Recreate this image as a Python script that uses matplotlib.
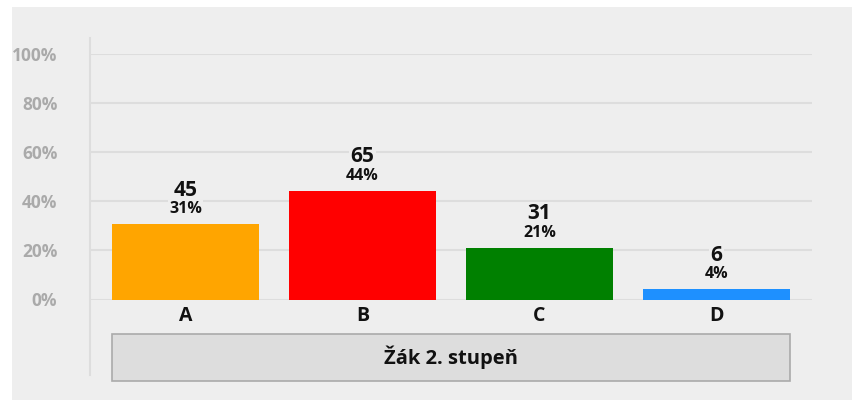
import matplotlib
matplotlib.use("Agg")
import matplotlib.pyplot as plt
from matplotlib.patches import Rectangle
from matplotlib.lines import Line2D
import matplotlib.transforms as mtransforms

categories = ["A", "B", "C", "D"]
counts = [45, 65, 31, 6]
colors = ["#FFA500", "#FF0000", "#008000", "#1E90FF"]
yticks = [0, 20, 40, 60, 80, 100]
ytick_labels = ["0%", "20%", "40%", "60%", "80%", "100%"]
group_label = "Žák 2. stupeň"

total = sum(counts)
percents = [c / total * 100 for c in counts]

plt.rcParams['font.family'] = ['Open Sans', 'DejaVu Sans']

W, H = 852, 400
fig = plt.figure(figsize=(W / 100, H / 100), dpi=100)
fig.patch.set_facecolor("white")

# panel background
fig.add_artist(Rectangle((12 / W, 0), 1 - 12 / W, (H - 7) / H, transform=fig.transFigure,
                         facecolor="#EEEEEE", edgecolor="none", zorder=0))

ax_left, ax_right = 90, 812
y0, y100 = 299.5, 54
ax = fig.add_axes([ax_left / W, (H - y0) / H, (ax_right - ax_left) / W, (y0 - y100) / H])
ax.set_facecolor("none")
for s in ax.spines.values():
    s.set_visible(False)

x = list(range(len(categories)))
bw = 147 / 177
ax.set_xlim(-(185.5 - 90) / 177, (812 - 185.5) / 177)
ax.set_ylim(0, 100)

for t in yticks:
    ax.axhline(t, color="#DDDDDD", lw=1.5, zorder=1)

ax.bar(x, percents, width=bw, color=colors, zorder=2)

for xi, c, p in zip(x, counts, percents):
    ax.annotate(str(c), (xi, p), xytext=(0, 24.5), textcoords="offset points",
                ha="center", va="center", fontsize=15, fontweight="bold", color="#111111",
                bbox=dict(facecolor="#EEEEEE", edgecolor="none", pad=1), zorder=3,
                annotation_clip=False)
    ax.annotate(f"{round(p)}%", (xi, p), xytext=(0, 10.8), textcoords="offset points",
                ha="center", va="center", fontsize=11.5, fontweight="bold", color="#111111",
                bbox=dict(facecolor="#EEEEEE", edgecolor="none", pad=1), zorder=3,
                annotation_clip=False)

ax.set_yticks(yticks)
ax.set_yticklabels(ytick_labels, fontsize=12.5, fontweight="bold", color="#AAAAAA")
ax.tick_params(axis="y", length=0, pad=23.5)
ax.set_xticks(x)
ax.set_xticklabels(categories, fontsize=14, fontweight="bold", color="#111111")
ax.tick_params(axis="x", length=0, pad=4.5)

# vertical axis line
fig.add_artist(Line2D([ax_left / W, ax_left / W], [(H - 375) / H, (H - 38) / H],
                      transform=fig.transFigure, color="#DDDDDD", lw=1.5, zorder=1))

# group label box
trans = mtransforms.blended_transform_factory(ax.transData, fig.transFigure)
bx0 = x[0] - bw / 2
bx1 = x[-1] + bw / 2
by0, by1 = (H - 380.5) / H, (H - 334) / H
ax.add_patch(Rectangle((bx0, by0), bx1 - bx0, by1 - by0, transform=trans,
                       facecolor="#DDDDDD", edgecolor="#AAAAAA", lw=1.2, clip_on=False, zorder=2))
ax.text((bx0 + bx1) / 2, (by0 + by1) / 2, group_label, transform=trans, ha="center", va="center",
        fontsize=14.5, fontweight="bold", color="#111111", clip_on=False, zorder=3)

fig.savefig("out.png", dpi=100)
